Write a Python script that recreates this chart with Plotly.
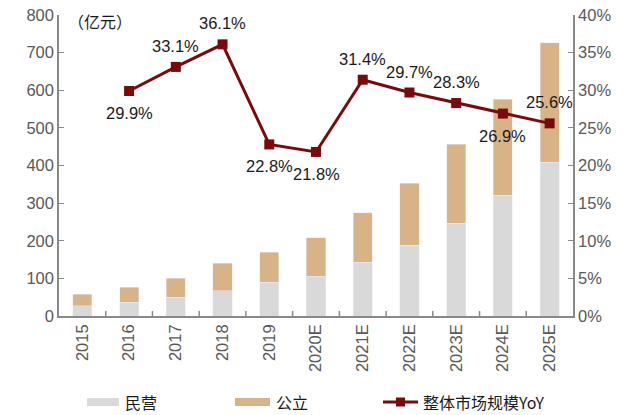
import plotly.graph_objects as go

years = ["2015", "2016", "2017", "2018", "2019", "2020E", "2021E", "2022E", "2023E", "2024E", "2025E"]
private = [27, 36, 50, 67, 90, 106, 143, 188, 247, 321, 408]
public_ = [31, 40, 51, 73, 79, 102, 131, 165, 210, 255, 318]
yoy_years = ["2016", "2017", "2018", "2019", "2020E", "2021E", "2022E", "2023E", "2024E", "2025E"]
yoy = [29.9, 33.1, 36.1, 22.8, 21.8, 31.4, 29.7, 28.3, 26.9, 25.6]
yoy_above = [False, True, True, False, False, True, True, True, False, True]
left_ticks = [0, 100, 200, 300, 400, 500, 600, 700, 800]
right_ticks = [0, 5, 10, 15, 20, 25, 30, 35, 40]

FONT = "Liberation Sans, Arial, sans-serif"
CJK = "Noto Sans CJK SC, sans-serif"
AX = "#898989"
TXT = "#595959"
C_PRIV = "#D9D9D9"
C_PUB = "#D7B387"
C_LINE = "#7A0A0A"

fig = go.Figure()
fig.add_trace(go.Bar(x=years, y=private, name="民营", marker_color=C_PRIV, width=0.41))
fig.add_trace(go.Bar(x=years, y=public_, name="公立", marker_color=C_PUB, width=0.41))
fig.add_trace(go.Scatter(
    x=yoy_years, y=yoy, name="整体市场规模YoY", yaxis="y2",
    mode="lines+markers",
    line=dict(color=C_LINE, width=3),
    marker=dict(symbol="square", size=10, color=C_LINE),
    cliponaxis=False,
))

W, H = 640, 415
ML, MR, MT, MB = 59, 67, 15, 99
PW, PH = W - ML - MR, H - MT - MB

def px(xp):
    return (xp - ML) / PW

def py(yp):
    return (H - MB - yp) / PH

fig.update_layout(
    width=W, height=H,
    margin=dict(l=ML, r=MR, t=MT, b=MB),
    barmode="stack",
    plot_bgcolor="white", paper_bgcolor="white",
    font=dict(family=FONT, color=TXT, size=16),
    showlegend=False,
    xaxis=dict(
        type="category", showline=True, linecolor=AX, linewidth=1.5,
        tickangle=-90, ticks="", tickfont=dict(size=16.5, color=TXT),
        range=[-0.5, 10.5], automargin=False,
    ),
    yaxis=dict(
        range=[0, 800], tickvals=left_ticks, showgrid=False, zeroline=False,
        showline=True, linecolor=AX, linewidth=1.5, ticks="inside", ticklen=5, tickcolor=AX,
        tickfont=dict(size=16.5, color=TXT), automargin=False,
    ),
    yaxis2=dict(
        range=[0, 40], tickvals=right_ticks, ticktext=[f"{v}%" for v in right_ticks],
        overlaying="y", side="right", showgrid=False, zeroline=False,
        showline=True, linecolor=AX, linewidth=1.5, ticks="inside", ticklen=5, tickcolor=AX,
        tickfont=dict(size=16.5, color=TXT), automargin=False,
    ),
)

annotations = [dict(text="（亿元）", x=px(66), y=py(21), xref="paper", yref="paper",
                    xanchor="left", yanchor="middle", showarrow=False,
                    font=dict(size=16, color="#1a1a1a", family=CJK))]

# data labels on the YoY line (category index used as x position)
for xv, yv, above in zip(yoy_years, yoy, yoy_above):
    annotations.append(dict(text=f"{yv:.1f}%", x=years.index(xv), y=yv, xref="x", yref="y2",
                            xanchor="center", yanchor="middle", showarrow=False,
                            yshift=21 if above else -22,
                            font=dict(size=16.5, color="#1a1a1a", family=FONT)))

shapes = []
# category boundary ticks on x axis
for i in range(1, 11):
    shapes.append(dict(type="line", xref="x", yref="paper", x0=i - 0.5, x1=i - 0.5,
                       y0=0, y1=5 / PH, line=dict(color=AX, width=1.5)))

# custom legend
LY = 402
for x0, x1, col, label in [(87, 119, C_PRIV, "民营"), (235, 270, C_PUB, "公立")]:
    shapes.append(dict(type="rect", xref="paper", yref="paper",
                       x0=px(x0), x1=px(x1), y0=py(LY + 4), y1=py(LY - 4),
                       fillcolor=col, line=dict(width=0)))
    annotations.append(dict(text=label, x=px(x1 + 4), y=py(LY), xref="paper", yref="paper",
                            xanchor="left", yanchor="middle", showarrow=False,
                            font=dict(size=16, color="#1a1a1a", family=CJK)))
shapes.append(dict(type="line", xref="paper", yref="paper", x0=px(383), x1=px(418),
                   y0=py(LY), y1=py(LY), line=dict(color=C_LINE, width=3)))
shapes.append(dict(type="rect", xref="paper", yref="paper", x0=px(396), x1=px(405),
                   y0=py(LY + 4.5), y1=py(LY - 4.5), fillcolor=C_LINE, line=dict(width=0)))
annotations.append(dict(text="整体市场规模YoY", x=px(421), y=py(LY), xref="paper", yref="paper",
                        xanchor="left", yanchor="middle", showarrow=False,
                        font=dict(size=16, color="#1a1a1a", family=CJK)))

fig.update_layout(annotations=annotations, shapes=shapes)
fig.write_html("out.html", config={"displayModeBar": False},
               post_script="document.body.style.margin='0';document.body.style.overflow='hidden';")
